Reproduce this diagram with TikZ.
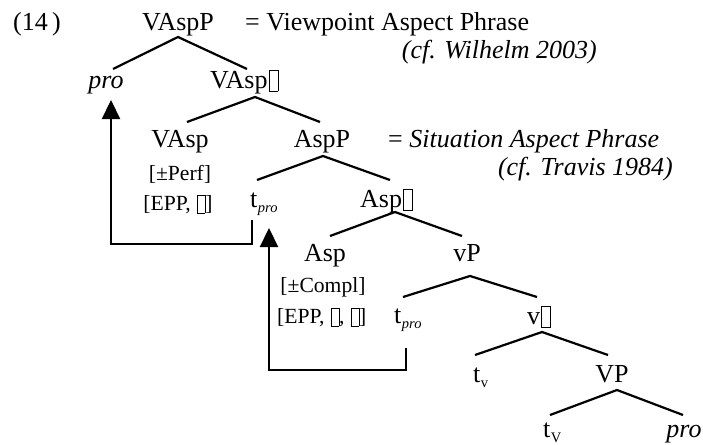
\documentclass[tikz,border=0pt]{standalone}
\usepackage{fontspec}
\setmainfont{Liberation Serif}
\usetikzlibrary{arrows.meta}
\newcommand\gb{\kern0.04em\raisebox{-0.12em}{\setlength\fboxsep{0pt}\setlength\fboxrule{0.6pt}\fbox{\rule{0pt}{0.8em}\rule{0.33em}{0pt}}}}
\newcommand\tsub[1]{t\kern0.02em\raisebox{-0.2em}{\fontsize{14.5}{15}\selectfont #1}}
\tikzset{
  mn/.style={font=\fontsize{26}{30}\selectfont, inner sep=0pt, anchor=base},
  sm/.style={font=\fontsize{21.6}{26}\selectfont, inner sep=0pt, anchor=base},
  br/.style={line width=2.2pt},
  mv/.style={line width=2.2pt, -{Triangle[length=19pt,width=18pt]}},
}
\begin{document}
\begin{tikzpicture}[x=1pt,y=-1pt]
\useasboundingbox (0,0) rectangle (703,444);
% nodes
\node[mn, anchor=base west] (ex) at (13,31) {(14\,)};
\node[mn] (VAspP) at (178,31) {VAspP};
\node[mn, anchor=base west] (eq1) at (245,31) {= Viewpoint Aspect Phrase};
\node[mn, anchor=base east] (cf1) at (597,59) {\itshape (cf. Wilhelm 2003)};
\node[mn] (pro1) at (106,88) {\itshape pro};
\node[mn, anchor=base west] (VAspbar) at (210,88) {VAsp\gb};
\node[mn] (VAsp) at (180,147) {VAsp};
\node[mn] (AspP) at (322,147) {AspP};
\node[mn, anchor=base west] (eq2) at (388,147) {= \itshape Situation Aspect Phrase};
\node[mn, anchor=base east] (cf2) at (673,175) {\itshape (cf. Travis 1984)};
\node[sm] (perf) at (180,180) {[±Perf]};
\node[sm] (epp1) at (178,210) {[EPP, \gb]};
\node[mn, anchor=base west] (tpro1) at (250,207) {\tsub{\itshape pro}};
\node[mn, anchor=base west] (Aspbar) at (360,207) {Asp\gb};
\node[mn] (Asp) at (325,261) {Asp};
\node[mn] (vP) at (467,261) {vP};
\node[sm] (compl) at (323,292) {[±Compl]};
\node[sm, anchor=base west] (epp2) at (277,323) {[EPP, \gb, \gb]};
\node[mn, anchor=base west] (tpro2) at (394,323) {\tsub{\itshape pro}};
\node[mn, anchor=base west] (vbar) at (527,324) {v\gb};
\node[mn, anchor=base west] (tv) at (473,382) {\tsub{v}};
\node[mn] (VP) at (612,382) {VP};
\node[mn, anchor=base west] (tV) at (543,437) {\tsub{V}};
\node[mn] (pro2) at (684,437) {\itshape pro};
% branches
\draw[br] ([shift={(7,-19)}]pro1.base) -- ([shift={(0,6)}]VAspP.base) -- ([shift={(37,-19)}]VAspbar.base west);
\draw[br] ([shift={(7,-25)}]VAsp.base) -- ([shift={(45,9)}]VAspbar.base west) -- ([shift={(-2,-25)}]AspP.base);
\draw[br] ([shift={(7,-27)}]tpro1.base west) -- ([shift={(1,9)}]AspP.base) -- ([shift={(30,-27)}]Aspbar.base west);
\draw[br] ([shift={(5,-25)}]Asp.base) -- ([shift={(35,5)}]Aspbar.base west) -- ([shift={(-5,-25)}]vP.base);
\draw[br] ([shift={(9,-26)}]tpro2.base west) -- ([shift={(3,15)}]vP.base) -- ([shift={(10,-27)}]vbar.base west);
\draw[br] ([shift={(2,-27)}]tv.base west) -- ([shift={(15,8)}]vbar.base west) -- ([shift={(-4,-27)}]VP.base);
\draw[br] ([shift={(7,-22)}]tV.base west) -- ([shift={(5,8)}]VP.base) -- ([shift={(-1,-22)}]pro2.base);
% movement arrows
\draw[mv] ([shift={(2,13)}]tpro1.base west) -- ++(0,24) -| ([shift={(5,12)}]pro1.base);
\draw[mv] ([shift={(12,25)}]tpro2.base west) -- ++(0,22) -| ([shift={(19,21)}]tpro1.base west);
\end{tikzpicture}
\end{document}
